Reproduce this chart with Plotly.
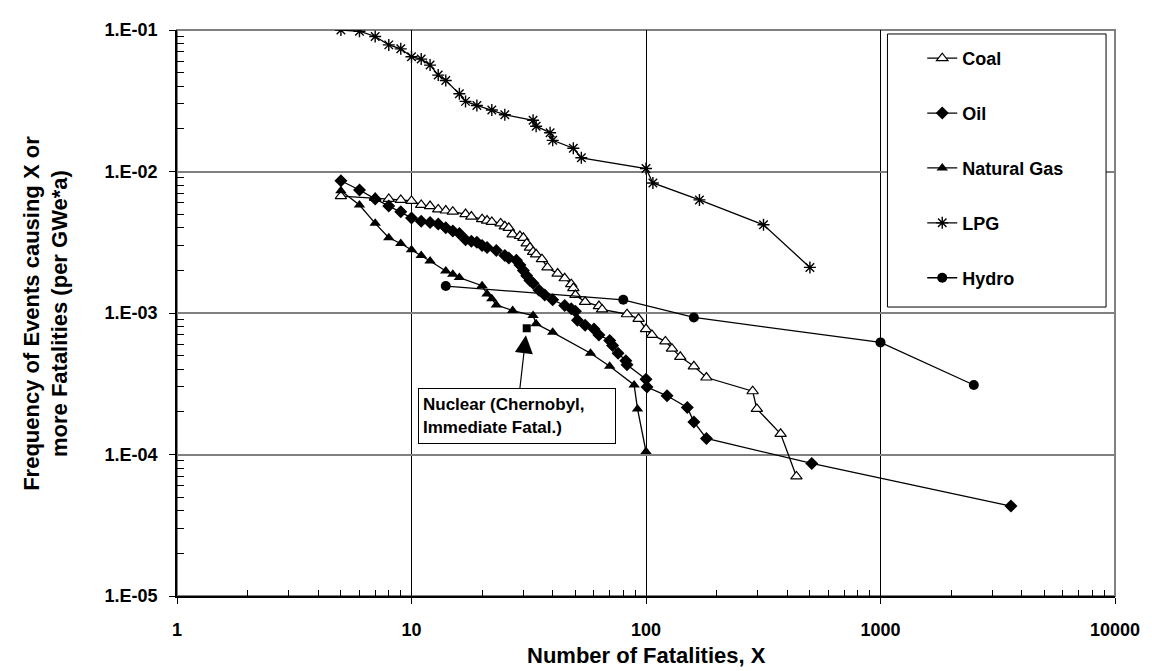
import math
import plotly.graph_objects as go

# ---------------- data ----------------
coal_x = [5, 7, 8, 9, 10, 11, 12, 13, 14, 15, 17, 18, 20, 21, 22, 24, 25, 26, 27, 29,
          30, 31, 32, 33, 34, 36, 38, 42, 45, 48, 49, 50, 55, 63, 65, 83, 93, 100, 106,
          121, 129, 140, 160, 181, 285, 297, 375, 438]
coal_y = [0.0067, 0.0065, 0.0064, 0.0063, 0.0062, 0.0058, 0.0057, 0.0054, 0.0053, 0.0052,
          0.0050, 0.0048, 0.0046, 0.0045, 0.0044, 0.0043, 0.0041, 0.0040, 0.0036, 0.0035,
          0.0034, 0.0031, 0.0029, 0.0027, 0.0026, 0.0024, 0.0021, 0.0019, 0.00176, 0.0016,
          0.0015, 0.00134, 0.0012, 0.00112, 0.00106, 0.00098, 0.00091, 0.00077, 0.0007,
          0.00063, 0.00056, 0.00049, 0.00042, 0.00035, 0.00028, 0.00021, 0.00014, 0.00007]

oil_x = [5, 6, 7, 8, 9, 10, 11, 12, 13, 14, 15, 16, 17, 18, 19, 20, 21, 23, 25, 26, 28,
         29, 30, 31, 32, 33, 35, 37, 40, 45, 48, 50, 51, 55, 60, 63, 70, 72, 76, 82, 83,
         100, 101, 123, 150, 160, 181, 509, 3600]
oil_y = [0.0086, 0.0074, 0.0064, 0.0057, 0.0052, 0.0047, 0.00445, 0.00436, 0.00426, 0.0040,
         0.0038, 0.00365, 0.0033, 0.00322, 0.00316, 0.0030, 0.0029, 0.00277, 0.00255, 0.00245,
         0.00236, 0.00218, 0.0020, 0.00183, 0.0017, 0.00162, 0.00145, 0.00134, 0.00124,
         0.00113, 0.00107, 0.00103, 0.00089, 0.00082, 0.00077, 0.0007, 0.00064, 0.00059,
         0.00052, 0.00046, 0.00043, 0.00034, 0.0003, 0.00026, 0.000215, 0.00017, 0.00013,
         0.0000865, 0.0000432]

gas_x = [5, 6, 7, 8, 9, 10, 11, 12, 14, 15, 16, 20, 21, 22, 23, 27, 33, 34, 40, 58, 70,
         89, 92, 100]
gas_y = [0.0073, 0.0058, 0.0043, 0.0034, 0.0031, 0.0028, 0.00255, 0.00233, 0.00198, 0.00188,
         0.00178, 0.00156, 0.00136, 0.00126, 0.00114, 0.00104, 0.00096, 0.00084, 0.00073,
         0.00052, 0.00042, 0.00031, 0.00021, 0.000105]

lpg_x = [5, 6, 7, 8, 9, 10, 11, 12, 13, 14, 16, 17, 19, 22, 25, 33, 34, 39, 40, 49, 53,
         100, 107, 169, 317, 500]
lpg_y = [0.1, 0.098, 0.090, 0.0785, 0.0736, 0.0647, 0.0623, 0.0565, 0.048, 0.044, 0.0354,
         0.0313, 0.0293, 0.0272, 0.0252, 0.023, 0.0209, 0.0188, 0.0166, 0.0146, 0.0125,
         0.0105, 0.0083, 0.0063, 0.0042, 0.0021]

hydro_x = [14, 80, 160, 1000, 2500]
hydro_y = [0.00155, 0.00124, 0.00093, 0.00062, 0.00031]

nuclear_x = [31]
nuclear_y = [0.00078]

x_tick_vals = [1, 10, 100, 1000, 10000]
x_tick_text = ["1", "10", "100", "1000", "10000"]
y_tick_vals = [1e-5, 1e-4, 1e-3, 1e-2, 1e-1]
y_tick_text = ["1.E-05", "1.E-04", "1.E-03", "1.E-02", "1.E-01"]

x_title = "Number of Fatalities, X"
y_title = "Frequency of Events causing X or<br>more Fatalities (per GWe*a)"
nuclear_label = "Nuclear (Chernobyl,<br>Immediate Fatal.)"

# ---------------- figure ----------------
FONT = "Liberation Sans, Arial, sans-serif"
PAGE_OFF = 8                      # default body margin of the html page
W, H = 1152 - PAGE_OFF, 671 - PAGE_OFF
# plot area in page pixels: x 177..1121, y 26..596
P_L, P_R, P_T, P_B = 177, 1121, 26, 596
ML, MT = P_L - PAGE_OFF, P_T - PAGE_OFF
MR, MB = 1152 - P_R, 671 - P_B
PW, PH = P_R - P_L, P_B - P_T


def px_x(p):
    return (p - P_L) / PW


def px_y(p):
    return (P_B - p) / PH


series = [
    ("Coal", coal_x, coal_y, dict(symbol="triangle-up", size=10, color="white",
                                  line=dict(color="black", width=1.2))),
    ("Oil", oil_x, oil_y, dict(symbol="diamond", size=10, color="black",
                               line=dict(color="black", width=0))),
    ("Natural Gas", gas_x, gas_y, dict(symbol="triangle-up", size=10, color="black",
                                       line=dict(color="black", width=0))),
    ("LPG", lpg_x, lpg_y, dict(symbol="asterisk-open", size=10, color="black",
                               line=dict(color="black", width=1.4))),
    ("Hydro", hydro_x, hydro_y, dict(symbol="circle", size=10, color="black",
                                     line=dict(color="black", width=0))),
]

fig = go.Figure()
for name, xs, ys, mk in series:
    fig.add_trace(go.Scatter(x=xs, y=ys, name=name, legendgroup=name,
                             mode="lines+markers",
                             line=dict(color="black", width=1.3), marker=mk))

fig.add_trace(go.Scatter(x=nuclear_x, y=nuclear_y, name="Nuclear", mode="markers",
                         showlegend=False,
                         marker=dict(symbol="square", size=8, color="black")))


def minor_vals(lo, hi):
    out = []
    for e in range(lo, hi):
        for m in range(2, 10):
            out.append(m * 10 ** e)
    return out


tick_font = dict(family=FONT, size=18, color="black", weight="bold")

fig.update_xaxes(
    type="log", range=[0, 4], tickmode="array", tickvals=x_tick_vals, ticktext=x_tick_text,
    showgrid=True, gridcolor="black", gridwidth=1,
    showline=True, linecolor="black", linewidth=1.5,
    ticks="outside", ticklen=6, tickcolor="black", tickwidth=1,
    ticklabelstandoff=11, tickfont=tick_font,
    minor=dict(tickmode="array", tickvals=minor_vals(0, 4), ticks="inside", ticklen=6,
               tickcolor="black", tickwidth=1, showgrid=False),
    zeroline=False,
)
fig.update_yaxes(
    type="log", range=[-5, -1], tickmode="array", tickvals=y_tick_vals, ticktext=y_tick_text,
    showgrid=True, gridcolor="#808080", gridwidth=2,
    showline=True, linecolor="black", linewidth=1.5,
    ticks="outside", ticklen=6, tickcolor="black", tickwidth=1,
    ticklabelstandoff=8, tickfont=tick_font,
    minor=dict(tickmode="array", tickvals=minor_vals(-5, -1), ticks="inside", ticklen=7,
               tickcolor="black", tickwidth=1, showgrid=False),
    zeroline=False,
)

# plot-area border (grey) and legend box
fig.add_shape(type="rect", xref="paper", yref="paper", x0=0, x1=1, y0=0, y1=1,
              line=dict(color="#808080", width=2), layer="between")
fig.add_shape(type="rect", xref="paper", yref="paper",
              x0=px_x(892), x1=px_x(1112), y0=px_y(305), y1=px_y(30),
              line=dict(color="black", width=1), fillcolor="white", layer="above")

# Nuclear annotation with arrow
fig.add_annotation(
    x=math.log10(nuclear_x[0]), y=math.log10(nuclear_y[0]), xref="x", yref="y",
    text=nuclear_label, showarrow=True, arrowhead=2, arrowsize=3, arrowwidth=1.2,
    arrowcolor="black", standoff=7, ax=-10, ay=88, axref="pixel", ayref="pixel",
    align="left", width=188, height=46, borderpad=4,
    bordercolor="black", borderwidth=1, bgcolor="white",
    font=dict(family=FONT, size=17, color="black", weight="bold"),
)

# axis titles
fig.add_annotation(text=x_title, xref="paper", yref="paper", x=0.5, y=px_y(656),
                   xanchor="center", yanchor="middle", showarrow=False,
                   font=dict(family=FONT, size=22, color="black", weight="bold"))
fig.add_annotation(text=y_title, xref="paper", yref="paper", x=px_x(45), y=0.5,
                   xanchor="center", yanchor="middle", textangle=-90, showarrow=False,
                   font=dict(family=FONT, size=22, color="black", weight="bold"))

fig.update_layout(
    width=W, height=H, autosize=False,
    margin=dict(l=ML, r=MR, t=MT, b=MB),
    paper_bgcolor="white", plot_bgcolor="white",
    showlegend=True,
    legend=dict(x=px_x(927), y=px_y(36), xanchor="left", yanchor="top",
                bgcolor="rgba(0,0,0,0)", borderwidth=0, tracegroupgap=28.5,
                itemwidth=30, font=dict(family=FONT, size=18, color="black", weight="bold")),
    font=dict(family=FONT, color="black"),
)

fig.write_html("out.html")
